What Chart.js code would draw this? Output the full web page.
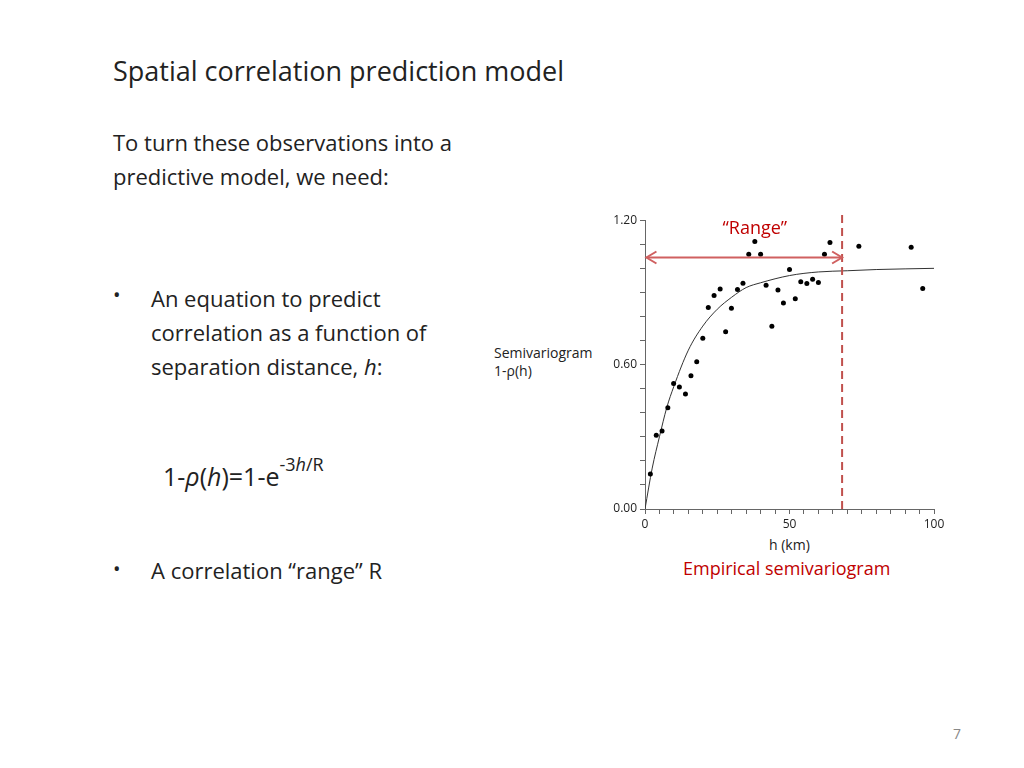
<!DOCTYPE html>
<html><head><meta charset="utf-8">
<script src="https://cdn.jsdelivr.net/npm/chart.js@4"></script>
<style>
body{margin:0;width:1024px;height:768px;background:#fff;font-family:"Open Sans",Lato,sans-serif;color:#222;position:relative;overflow:hidden}
.t{position:absolute;white-space:nowrap}
</style></head><body>
<div class="t" style="left:113px;top:52px;font-size:27px">Spatial correlation prediction model</div>
<div class="t" style="left:113px;top:125px;font-size:22px;line-height:34px">To turn these observations into a<br>predictive model, we need:</div>
<div class="t" style="left:113px;top:281px;font-size:20px">•</div>
<div class="t" style="left:151px;top:281px;font-size:22px;line-height:34px">An equation to predict<br>correlation as a function of<br>separation distance, <i>h</i>:</div>
<div class="t" style="left:163px;top:458px;font-size:25px">1-<i>ρ</i>(<i>h</i>)=1-e<sup style="font-size:18px;position:relative;top:-6px">-3<i>h</i>/R</sup></div>
<div class="t" style="left:113px;top:555px;font-size:20px">•</div>
<div class="t" style="left:151px;top:555px;font-size:22px">A correlation “range” R</div>
<div class="t" style="left:494px;top:344px;font-size:14px;line-height:18px">Semivariogram<br>1-ρ(h)</div>
<div class="t" style="left:769px;top:535px;font-size:14px">h (km)</div>
<div class="t" style="left:683px;top:556px;font-size:18px;color:#c00000">Empirical semivariogram</div>
<div class="t" style="left:953px;top:724px;font-size:14px;color:#888">7</div>
<div style="position:absolute;left:600px;top:210px;width:350px;height:330px"><canvas id="c"></canvas></div>
<script>
const obsH=[1.85,3.9,5.9,7.9,9.9,11.9,14,15.9,17.9,20,21.9,23.9,26,27.9,29.9,32,33.9,35.9,38,40,41.9,43.9,46,47.9,50,52,53.9,56,58,60,62.1,64,74,92.1,96.1];
const obsV=[0.145,0.306,0.324,0.421,0.521,0.507,0.478,0.554,0.612,0.709,0.837,0.887,0.914,0.736,0.834,0.912,0.938,1.059,1.111,1.059,0.930,0.759,0.910,0.856,0.995,0.874,0.944,0.937,0.955,0.941,1.059,1.107,1.092,1.088,0.916];
const fitH=[0,2.5,5,7.5,10,15,20,25,30,35,40,50,60,70,80,100];
const fitV=[0,0.17,0.30,0.42,0.51,0.66,0.76,0.83,0.88,0.92,0.94,0.97,0.985,0.99,0.995,1.0];
const rangeKm=68.2, arrowY=1.045;
const ov={id:'ov',afterDatasetsDraw(ch){const c=ch.ctx,x=ch.scales.x,y=ch.scales.y;
 c.save();c.strokeStyle='#c0504d';c.lineWidth=2;c.setLineDash([8,5]);
 const xr=x.getPixelForValue(rangeKm);c.beginPath();c.moveTo(xr,y.getPixelForValue(0));c.lineTo(xr,ch.chartArea.top-8);c.stroke();
 c.setLineDash([]);c.strokeStyle='#d06060';const ay=y.getPixelForValue(arrowY),x0=x.getPixelForValue(0.5);
 c.beginPath();c.moveTo(x0,ay);c.lineTo(xr,ay);c.stroke();
 c.beginPath();c.moveTo(x0+10,ay-6);c.lineTo(x0,ay);c.lineTo(x0+10,ay+6);c.moveTo(xr-10,ay-6);c.lineTo(xr,ay);c.lineTo(xr-10,ay+6);c.stroke();
 c.fillStyle='#c00000';c.font='18px "Open Sans", sans-serif';c.textAlign='center';c.fillText('“Range”',x.getPixelForValue(38),ch.chartArea.top+14);
 c.restore();}};
new Chart(document.getElementById('c'),{type:'scatter',
data:{datasets:[
 {data:obsH.map((h,i)=>({x:h,y:obsV[i]})),pointRadius:2.5,pointBackgroundColor:'#000',pointBorderWidth:0},
 {type:'line',data:fitH.map((h,i)=>({x:h,y:fitV[i]})),borderColor:'#333',borderWidth:1,pointRadius:0,tension:0.4,cubicInterpolationMode:'monotone'}]},
options:{responsive:true,maintainAspectRatio:false,animation:false,
 layout:{padding:{top:10,right:16,left:0,bottom:0}},
 plugins:{legend:{display:false},tooltip:{enabled:false}},
 scales:{
  x:{type:'linear',min:0,max:100,afterFit(s){s.height=31},
   ticks:{stepSize:5,autoSkip:false,maxRotation:0,color:'#222',font:{size:12,family:'"Open Sans"'},callback:v=>v%50===0?v:''},
   grid:{drawOnChartArea:false,drawTicks:true,tickLength:5,color:'#666'},border:{color:'#666'}},
  y:{min:0,max:1.2,afterFit(s){s.width=45},
   ticks:{stepSize:0.1,autoSkip:false,color:'#222',font:{size:12,family:'"Open Sans"'},callback:v=>{const r=Math.round(v*10);return (r===0||r===6||r===12)?v.toFixed(2):''}},
   grid:{drawOnChartArea:false,drawTicks:true,tickLength:5,color:'#666'},border:{color:'#666'}}}},
plugins:[ov]});
</script></body></html>
